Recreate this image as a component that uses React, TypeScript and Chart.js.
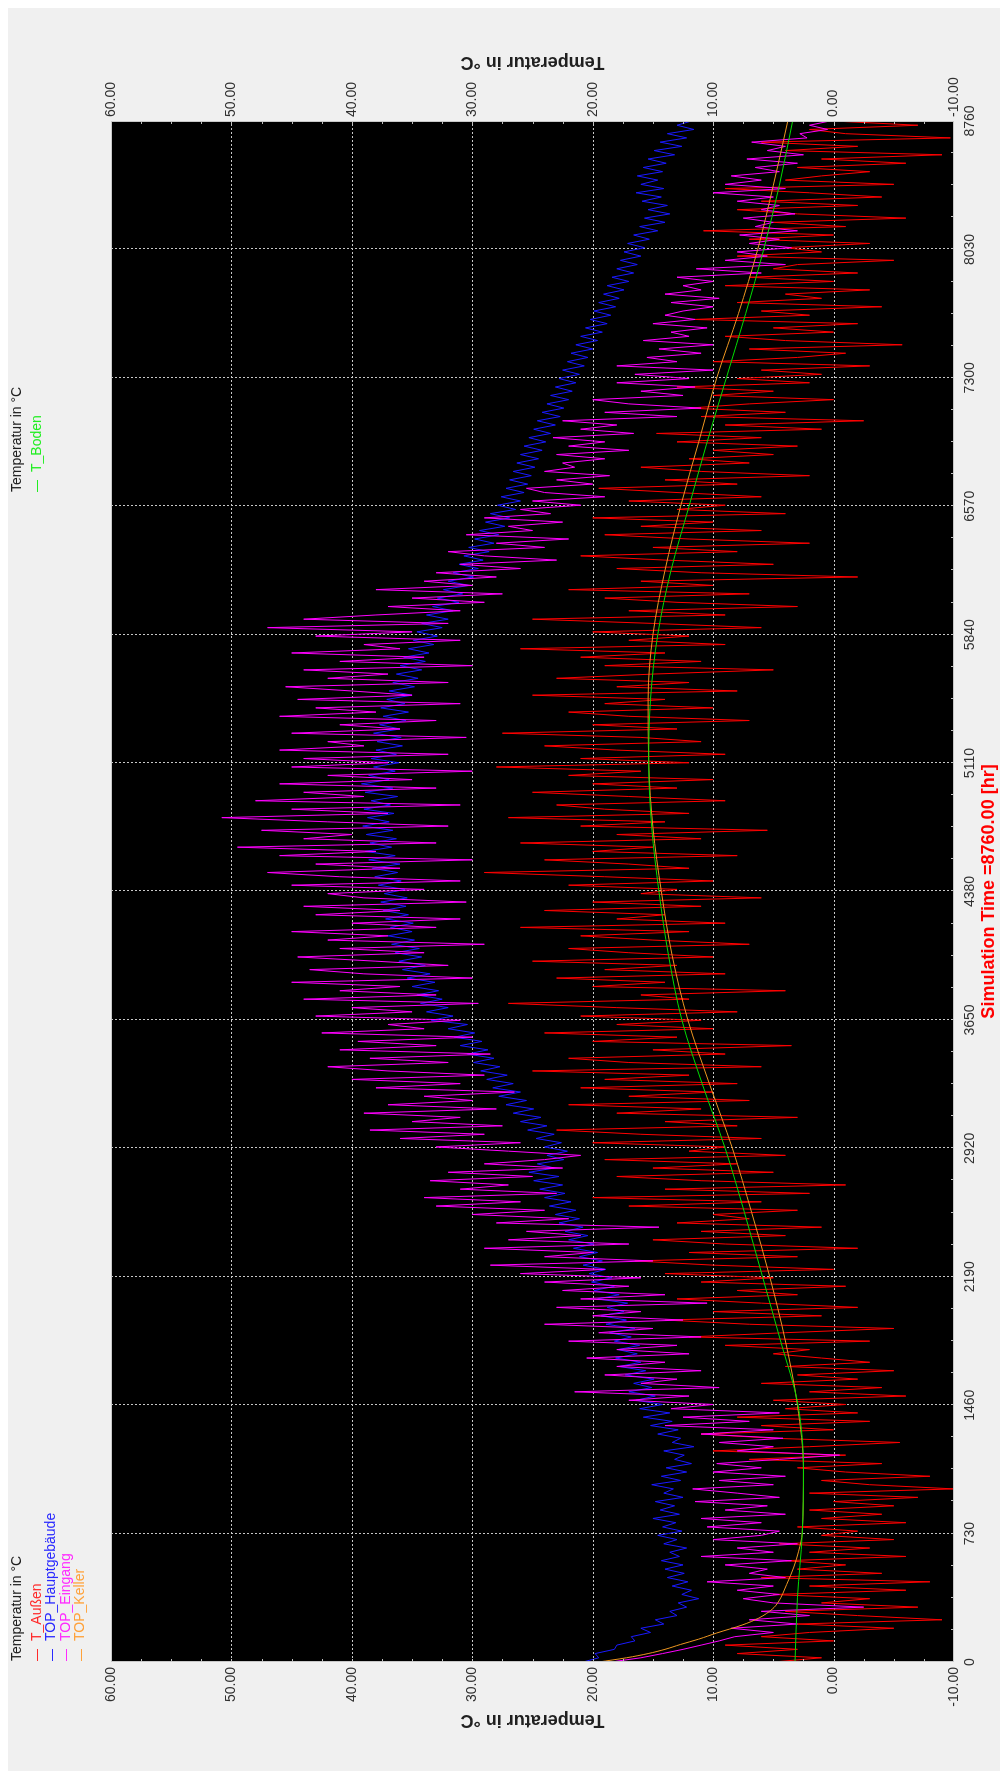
import React, { useEffect, useRef } from 'react';
import { Chart, registerables } from 'chart.js';

Chart.register(...registerables);

// ---------- data ----------
const STEP_HOURS = 24; // sampling of the noisy series (hours)
const TIME_TICKS = [0, 730, 1460, 2190, 2920, 3650, 4380, 5110, 5840, 6570, 7300, 8030, 8760];
const TEMP_TICKS = [-10, 0, 10, 20, 30, 40, 50, 60];

const T_AUSSEN = [
  5, 1, 8, 3, 9, 0, 6,
  2, -5, 3, -9, -2, 4, -7, 1,
  -3, 5, -6, 2, -8, 6, -4, 3,
  -1, 4, -6, 2, -3, 4.5, -5, 1,
  -2, 3, -6, 1, -4, 2, -5,
  0, -7, 2, -10, -3, 1, -8, -1,
  3, -4, 7, -1, 10, 2, -5.5, 5, 11, 0, 6, -3, 8, -2, 4,
  -1, 5, -6, 2, -4, 6, -2, 3, -5, 4, -3, 1, 5,
  2, 9, -3, 12, 4, -5, 7, 14, 1, 10, -2, 6, 13, 3, 8, -1, 11,
  5, 14, 0, 10, 16.5, 3, 12, -2, 9, 15, 4, 11, 1, 13, 7,
  10, 3, 17, 6, 20, 2, 14, -1, 11, 18, 5, 15, 8, 19, 4, 12,
  9, 20, 6, 16, 23, 8, 14, 3, 18, 11, 22, 7, 17, 10, 21,
  8, 19, 12, 25, 6, 17, 22, 9, 15, 3.5, 20, 13, 24, 10, 18,
  11, 21, 8, 18, 27, 12, 16, 4, 20, 14, 23, 9, 19, 13, 25, 10, 17, 22, 7, 15, 21, 12, 26, 9, 18, 14, 24, 11, 20, 6, 16,
  13, 22, 10, 19, 29, 12, 17, 24, 8, 20, 15, 26, 11, 18, 5.5, 21, 14, 27, 12, 19, 23, 9, 17, 25, 13, 20, 10, 22, 16, 28,
  12, 21, 9, 18, 24, 11, 16, 27.5, 13, 20, 7, 17, 22, 10, 19, 14, 25, 8, 18, 12, 23, 15, 5, 19, 11, 21, 14, 26, 9, 17,
  12, 20, 6, 15, 25, 9, 17, 3, 13, 19, 7, 22, 10, 16, -2, 11, 18, 5, 14, 21, 8, 15, 2, 12, 19, 6, 16, 10, 20, 4, 13,
  9, 17, 6, 13, 19.5, 8, 14, 2, 11, 16, 7, 12, 5,
  10, 3, 13, 6, 14.7, 1, 9, -2.5, 11, 4, 12, 7, 0, 10, 5, 13, 2,
  8, 1, 6, -3, 10, 3, -1, 7, -5.7, 4, 9, 0, 5, -2, 11.6, 2, 6, -4, 8, 1, 4, -3, 9, 0, 7, -2, 5, 3, -5, 8, 1,
  4, -3, 7, 0, 10.8, -1, 5, -6, 3, 8, -2, 6, -4, 2, 9, -5, 4, 1, -3,
  3, -6, 1, -9, 4, -2, 6, -9.7, -1, 2, -7, 0,
];

const TOP_HAUPTGEBAEUDE = [
  20.8, 19.5, 19.8, 18.2, 18, 16.5, 16.8,
  15.2, 16, 14.1, 14.8, 13, 13.6, 12.2, 12.9,
  11.2, 12.6, 11.8, 13.4, 12.1, 13.8, 12.4, 14,
  12.5, 14.3, 12.8, 13.6, 12.2, 14.1, 13, 14.6,
  12.6, 14.2, 13.1, 15, 12.8, 14.4, 13.2,
  14.8, 12.5, 14.1, 13.3, 15.1, 12.7, 14.3, 12.2,
  13.9, 11.8, 13.2, 12.4, 14.1, 11.6, 13.4, 12.7, 14.6, 12.9, 15.2, 13.4, 15.8, 13.6, 16.1,
  14.2, 16.4, 14.8, 17, 15.1, 16.6, 14.9, 17.3, 15.6, 17.8, 16, 18.1, 16.3,
  17.9, 16.1, 18.2, 16.8, 18.6, 16.5, 18.9, 17.2, 19.3, 17.4, 18.8, 17.1, 19.6, 17.8, 19.9, 18.2, 20.1,
  18.4, 20.3, 18.9, 20.8, 19.2, 21.1, 19.6, 21.6, 19.9, 22, 20.4, 22.3, 20.8, 22.8, 21.1,
  23.1, 21.4, 23.6, 21.8, 24, 22.3, 24.4, 22.5, 24.9, 22.8, 25.3, 23.2, 24.6, 22.4, 23.8, 22.1,
  24, 22.6, 24.7, 23.2, 25.4, 23.8, 26, 24.3, 26.6, 24.9, 27.2, 25.5, 27.8, 26, 28.3,
  26.6, 28.8, 27.1, 29.3, 27.7, 29.9, 28.2, 30.4, 28.7, 31, 29.2, 31.5, 29.8, 32, 30.4,
  33.4, 31.6, 33.8, 32, 34.3, 32.5, 34.6, 32.8, 35, 33.1, 35.4, 33.5, 35.8, 33.9, 36.1, 34.2, 36.4, 34.4, 36.7, 34.8, 37, 35, 36.8, 34.9, 37.2, 35.3, 37.4, 35.5, 37.6, 35.4, 37.3,
  35.6, 37.8, 35.9, 38.1, 36.2, 38.3, 36, 38.6, 36.4, 38.9, 36.7, 38.5, 36.3, 38.8, 36.6, 39.1, 36.9, 38.7, 36.5, 39, 36.8, 38.4, 36.2, 38.9, 36.6, 39.2, 36.9, 38.6, 36.4, 38.2,
  36.1, 38.4, 36.3, 38, 35.8, 37.9, 35.9, 38.2, 36, 37.7, 35.5, 37.4, 35.3, 37.6, 35.6, 37.1, 35, 36.9, 34.8, 36.6, 34.5, 36.3, 34.2, 36, 33.9, 35.7, 33.6, 35.3, 33.2, 34.9,
  32.9, 34.6, 32.5, 34.2, 32, 33.8, 31.6, 33.3, 31.1, 32.9, 30.8, 32.4, 30.3, 32, 29.9, 31.6, 29.5, 31.1, 29.1, 30.7, 28.6, 30.3, 28.2, 29.8, 27.8, 29.4, 27.3, 28.9, 26.9, 28.5, 26.4,
  27.9, 26, 27.6, 25.7, 27.2, 25.4, 26.9, 25.1, 26.6, 24.8, 26.3, 24.5, 26,
  24.2, 25.7, 23.9, 25.3, 23.5, 24.9, 23.1, 24.6, 22.7, 24.2, 22.4, 23.8, 22, 23.5, 21.7, 23.1, 21.4,
  22.8, 21.1, 22.5, 20.7, 22.1, 20.4, 21.8, 20, 21.4, 19.6, 21, 19.2, 20.6, 18.8, 20.2, 18.5, 19.9, 18.1, 19.5, 17.8, 19.1, 17.4, 18.8, 17, 18.4, 16.6, 18, 16.3, 17.7, 16, 17.4,
  15.7, 17.1, 15.3, 16.6, 14.6, 16.1, 14, 15.7, 13.6, 15.4, 13.8, 15.9, 14.3, 16.4, 14.1, 16, 14.6, 16.3, 14.2,
  15.8, 13.9, 15.4, 13.2, 14.9, 12.6, 14.4, 12.2, 13.8, 11.6, 13, 11.8,
];

const TOP_EINGANG = [
  18.5, 16, 14.2, 12.5, 11, 9.5, 8.2,
  5, 8.5, 3, 7, 2, 6, -2.5, 5,
  7.5, 4.5, 8, 5, 10.5, 4, 7, 5.5,
  9, 3.5, 11, 5, 8, 3, 10, 6,
  4.5, 10.5, 6, 11, 4, 9, 5.5,
  11.5, 4.5, 8, 11.7, 5, 9.5, 4, 10,
  6, 9.7, 4.5, -0.5, 8, 5, 9.5, 4.2,
  11, 5, 14, 7, 12.5, 4.5, 13.5,
  10, 17, 12, 21.5, 9.5, 16, 13, 19, 11, 18, 14, 20.5, 12,
  18, 13, 22, 11, 19.5, 15, 24, 12.5, 20, 16, 23, 10.5, 21, 14, 22.5, 17, 24,
  16, 26, 19, 28.5, 15, 24, 20, 29, 17, 27, 21, 25.5, 14.5, 28, 22,
  30, 24, 33, 26, 34, 23, 31, 27, 33.5, 25, 32, 22.5, 29, 24, 21, 27,
  33, 26, 36, 29, 38.5, 27.5, 35, 31, 39, 28, 37, 30, 34, 26.5, 38,
  31, 40, 29, 37, 42, 32, 38.5, 28.5, 41, 33, 39.5, 30, 42.5, 34, 37,
  31, 43, 35, 40, 29.5, 44, 33, 41, 36, 45, 30, 39, 43.5, 32, 38, 44.5, 34, 41, 29, 42, 37, 45, 33, 40, 31, 43, 36, 44, 30.5, 39, 42,
  34, 45, 31, 41, 47, 36, 43, 30, 46, 38, 49.5, 33, 44, 40, 47.5, 32, 42, 50.8, 37, 45, 31, 48, 39, 44, 33, 46, 35, 42, 30, 45,
  37, 44, 32, 46, 39, 42, 30.5, 45, 36, 41, 33, 46, 38, 43, 31, 44.5, 35, 40, 45.5, 32, 42, 37, 44, 30, 41, 34, 45, 36, 39, 31,
  43, 35, 47, 32, 44, 38, 31,
  37, 29, 35, 27.5, 38, 30, 34, 28, 33,
  26, 31, 23, 29, 32, 24, 28, 22, 30.5, 25, 27, 22.5, 29, 23.5, 26,
  21, 25, 19, 24, 25.5, 20, 23, 18.6, 24, 21.5, 22.5, 19, 23,
  17, 22, 19, 23.3, 16.6, 21, 18, 22.5,
  13, 19, 11, 17, 20, 12.5, 16, 11.5, 18,
  12, 16.5, 10, 18, 13, 15.5,
  11, 14.5, 10, 15.8, 12, 13.5, 10.5, 15, 11.5, 14, 12.5,
  10, 13.5, 9.5, 14, 11, 12.5, 10, 13,
  6, 11.4, 4, 9, 5.5, 8,
  3.5, 7, 4.5, 7.8, 3, 6.5, 5, 7.5, 3.2, 6, 4.5,
  8, 5, 10, 4, 9, 6, 8.5, 4.5,
  6.5, 3, 7.2, 2.5, 5.5, 4, 6.8, 2.2,
  2.8, 0.5, 2, 0.3,
];

const KELLER_HOURS = [0, 24, 48, 72, 100, 130, 165, 210, 250, 300, 340, 440, 540, 630, 735, 1095, 1460, 1825, 2190, 2555, 2920, 3285, 3650, 4015, 4380, 4745, 5110, 5475, 5840, 6205, 6570, 6935, 7300, 7665, 8030, 8395, 8760];
const TOP_KELLER = [19.5, 17.2, 15.4, 14.0, 12.7, 11.2, 9.7, 7.6, 6.2, 5.1, 4.6, 3.9, 3.3, 2.9, 2.6, 2.5, 3.0, 4.0, 5.3, 6.8, 8.4, 10.3, 12.1, 13.4, 14.3, 15.0, 15.35, 15.4, 15.0, 14.0, 12.7, 11.2, 9.7, 7.9, 6.3, 5.0, 3.8];

const BODEN_HOURS = [0, 365, 730, 1095, 1460, 1825, 2190, 2555, 2920, 3285, 3650, 4015, 4380, 4745, 5110, 5475, 5840, 6205, 6570, 6935, 7300, 7665, 8030, 8395, 8760];
const T_BODEN = [3.2, 3.0, 2.6, 2.5, 2.95, 4.4, 5.9, 7.4, 9.0, 10.9, 12.6, 13.7, 14.5, 15.1, 15.35, 15.2, 14.6, 13.5, 12.0, 10.5, 8.9, 7.3, 5.8, 4.5, 3.4];

const LEGEND_LEFT = [
  { label: 'T_Außen', color: '#ff2a2a' },
  { label: 'TOP_Hauptgebäude', color: '#2a2aff' },
  { label: 'TOP_Eingang', color: '#ff2aff' },
  { label: 'TOP_Keller', color: '#ffa23a' },
];
const LEGEND_RIGHT = [{ label: 'T_Boden', color: '#22ee22' }];

// ---------- drawing ----------
const W = 1771;
const H = 1000;
const FONT = '"Liberation Sans", Arial, Helvetica, sans-serif';
const TEXT = '#303030';

const sampled = (vals: number[]) => vals.map((v, i) => ({ x: i * STEP_HOURS, y: v }));
const paired = (xs: number[], ys: number[]) => ys.map((v, i) => ({ x: xs[i], y: v }));

const decor = {
  id: 'decor',
  beforeDraw(chart: any) {
    const { ctx, chartArea: a } = chart;
    ctx.save();
    ctx.fillStyle = '#000000';
    ctx.fillRect(a.left, a.top, a.right - a.left, a.bottom - a.top);
    ctx.restore();
  },
  beforeDatasetsDraw(chart: any) {
    const { ctx, chartArea: a, scales } = chart;
    const xs = scales.x;
    const ys = scales.y;
    ctx.save();
    ctx.strokeStyle = '#c8c8c8';
    ctx.lineWidth = 1;
    ctx.setLineDash([2, 2]);
    for (const v of TIME_TICKS) {
      if (v <= xs.min || v >= xs.max) continue;
      const px = Math.round(xs.getPixelForValue(v)) + 0.5;
      ctx.beginPath();
      ctx.moveTo(px, a.top);
      ctx.lineTo(px, a.bottom);
      ctx.stroke();
    }
    for (const v of TEMP_TICKS) {
      if (v <= ys.min || v >= ys.max) continue;
      const py = Math.round(ys.getPixelForValue(v)) + 0.5;
      ctx.beginPath();
      ctx.moveTo(a.left, py);
      ctx.lineTo(a.right, py);
      ctx.stroke();
    }
    ctx.restore();
  },
  afterDatasetsDraw(chart: any) {
    const { ctx, chartArea: a, scales } = chart;
    const xs = scales.x;
    const ys = scales.y;
    ctx.save();
    ctx.setLineDash([]);
    ctx.strokeStyle = '#bdbdbd';
    ctx.lineWidth = 1;
    const tStep = (TEMP_TICKS[1] - TEMP_TICKS[0]) / 4;
    for (let v = ys.min + tStep; v < ys.max - 0.01; v += tStep) {
      const py = Math.round(ys.getPixelForValue(v)) + 0.5;
      ctx.beginPath();
      ctx.moveTo(a.left, py);
      ctx.lineTo(a.left + 3, py);
      ctx.moveTo(a.right, py);
      ctx.lineTo(a.right - 3, py);
      ctx.stroke();
    }
    const hStep = (TIME_TICKS[1] - TIME_TICKS[0]) / 4;
    for (let v = xs.min + hStep; v < xs.max - 0.01; v += hStep) {
      const px = Math.round(xs.getPixelForValue(v)) + 0.5;
      ctx.beginPath();
      ctx.moveTo(px, a.bottom);
      ctx.lineTo(px, a.bottom - 3);
      ctx.stroke();
    }
    ctx.strokeStyle = '#c8c8c8';
    ctx.strokeRect(a.left + 0.5, a.top + 0.5, a.right - a.left - 1, a.bottom - a.top - 1);
    ctx.restore();
  },
  afterDraw(chart: any) {
    const { ctx, chartArea: a } = chart;
    const midY = (a.top + a.bottom) / 2;
    ctx.save();
    ctx.font = `bold 18px ${FONT}`;
    ctx.fillStyle = '#202020';
    ctx.textAlign = 'center';
    ctx.textBaseline = 'middle';
    for (const x of [51, W - 62]) {
      ctx.save();
      ctx.translate(x, midY);
      ctx.rotate(-Math.PI / 2);
      ctx.fillText('Temperatur in °C', 0, 0);
      ctx.restore();
    }
    ctx.textAlign = 'left';
    ctx.font = `14px ${FONT}`;
    const drawLegend = (x0: number, items: { label: string; color: string }[]) => {
      ctx.fillStyle = '#202020';
      ctx.fillText('Temperatur in °C', x0, 17);
      items.forEach((it, i) => {
        const y = 37 + i * 14.5;
        ctx.strokeStyle = it.color;
        ctx.lineWidth = 1;
        ctx.beginPath();
        ctx.moveTo(x0, Math.round(y) + 0.5);
        ctx.lineTo(x0 + 12, Math.round(y) + 0.5);
        ctx.stroke();
        ctx.fillStyle = it.color;
        ctx.fillText(it.label, x0 + 20, y);
      });
    };
    drawLegend(110, LEGEND_LEFT);
    drawLegend(1279, LEGEND_RIGHT);
    ctx.restore();
  },
};

export default function App() {
  const ref = useRef<HTMLCanvasElement>(null);

  useEffect(() => {
    const canvas = ref.current;
    if (!canvas) return;
    const tempAxis = (position: 'left' | 'right', width: number, padding: number) => ({
      type: 'linear' as const,
      position,
      min: -10,
      max: 60,
      afterBuildTicks: (s: any) => {
        s.ticks = TEMP_TICKS.map((v) => ({ value: v }));
      },
      afterFit: (s: any) => {
        s.width = width;
      },
      grid: { display: false, drawTicks: false },
      border: { display: false },
      ticks: {
        padding,
        color: TEXT,
        font: { family: FONT, size: 14 },
        callback: (v: any) => Number(v).toFixed(2),
      },
    });

    const chart = new Chart(canvas, {
      type: 'line',
      data: {
        datasets: [
          { label: 'T_Außen', data: sampled(T_AUSSEN), borderColor: '#ff0000', order: 5, yAxisID: 'y' },
          { label: 'TOP_Hauptgebäude', data: sampled(TOP_HAUPTGEBAEUDE), borderColor: '#1a1aff', order: 4, yAxisID: 'y' },
          { label: 'TOP_Eingang', data: sampled(TOP_EINGANG), borderColor: '#ff00ff', order: 3, yAxisID: 'y' },
          { label: 'TOP_Keller', data: paired(KELLER_HOURS, TOP_KELLER), borderColor: '#ee9620', order: 2, yAxisID: 'y', cubicInterpolationMode: 'monotone' },
          { label: 'T_Boden', data: paired(BODEN_HOURS, T_BODEN), borderColor: '#00dd00', order: 1, yAxisID: 'y2', cubicInterpolationMode: 'monotone' },
        ] as any,
      },
      options: {
        animation: false,
        responsive: false,
        maintainAspectRatio: false,
        devicePixelRatio: 1,
        events: [],
        layout: { padding: { top: 111, left: 0, right: 0, bottom: 0 } },
        elements: {
          point: { radius: 0 },
          line: { borderWidth: 1, tension: 0, fill: false },
        },
        plugins: { legend: { display: false }, tooltip: { enabled: false }, title: { display: false } },
        scales: {
          x: {
            type: 'linear',
            position: 'bottom',
            min: 0,
            max: 8760,
            afterBuildTicks: (s: any) => {
              s.ticks = TIME_TICKS.map((v) => ({ value: v }));
            },
            afterFit: (s: any) => {
              s.height = 46;
            },
            grid: { display: false, drawTicks: false },
            border: { display: false },
            ticks: {
              autoSkip: false,
              maxRotation: 0,
              minRotation: 0,
              padding: 8,
              color: TEXT,
              font: { family: FONT, size: 14 },
              callback: (v: any) => String(v),
            },
            title: {
              display: true,
              text: 'Simulation Time =8760.00 [hr]',
              color: '#ff0000',
              font: { family: FONT, size: 18, weight: 'bold' },
              padding: { top: 0, bottom: 0 },
            },
          },
          y: tempAxis('left', 109, 5),
          y2: tempAxis('right', W - 1650, 4),
        } as any,
      },
      plugins: [decor],
    });
    return () => chart.destroy();
  }, []);

  return (
    <div style={{ position: 'absolute', left: 0, top: 0, width: 1000, height: 1771, background: '#ffffff', overflow: 'hidden' }}>
      <div style={{ position: 'absolute', left: 8, top: 8, right: 0, bottom: 0, background: '#f0f0f0' }} />
      <canvas
        ref={ref}
        width={W}
        height={H}
        style={{
          position: 'absolute',
          left: 0,
          top: 0,
          width: W,
          height: H,
          transformOrigin: '0 0',
          transform: `translate(0px, ${W}px) rotate(-90deg)`,
        }}
      />
    </div>
  );
}
